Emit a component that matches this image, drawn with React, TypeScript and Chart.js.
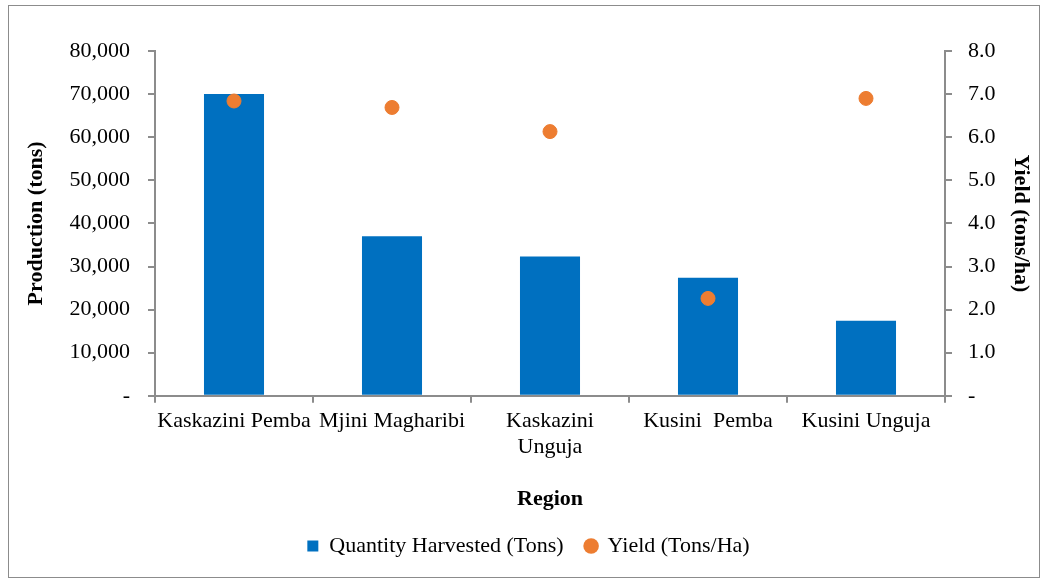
import React, { useEffect, useRef } from "react";
import { Chart, registerables } from "chart.js";

Chart.register(...registerables);

const regions: (string | string[])[] = [
  "Kaskazini Pemba",
  "Mjini Magharibi",
  ["Kaskazini", "Unguja"],
  "Kusini  Pemba",
  "Kusini Unguja",
];
const quantityHarvested = [70000, 37000, 32300, 27400, 17400];
const yieldTonsHa = [6.84, 6.69, 6.13, 2.26, 6.9];

const FONT = "'Liberation Serif', 'Times New Roman', serif";
const FS = 22;

const borderPlugin = {
  id: "outerBorder",
  beforeDraw(chart: any) {
    const ctx = chart.ctx;
    ctx.save();
    ctx.fillStyle = "#ffffff";
    ctx.fillRect(0, 0, chart.width, chart.height);
    ctx.strokeStyle = "#8c8c8c";
    ctx.lineWidth = 1;
    ctx.strokeRect(8.5, 5.5, 1031, 572);
    ctx.restore();
  },
};

export default function App() {
  const ref = useRef<HTMLCanvasElement | null>(null);
  useEffect(() => {
    if (!ref.current) return;
    const chart = new Chart(ref.current, {
      type: "bar",
      data: {
        labels: regions,
        datasets: [
          {
            type: "bar",
            label: "Quantity Harvested (Tons)",
            data: quantityHarvested,
            backgroundColor: "#0070C0",
            yAxisID: "y",
            order: 2,
            barPercentage: 0.38,
            categoryPercentage: 1,
          },
          {
            type: "line",
            label: "Yield (Tons/Ha)",
            data: yieldTonsHa,
            yAxisID: "y1",
            showLine: false,
            pointRadius: 7,
            pointHoverRadius: 7,
            pointBackgroundColor: "#ED7D31",
            pointBorderColor: "#ED7D31",
            backgroundColor: "#ED7D31",
            borderColor: "#ED7D31",
            pointStyle: "circle",
            order: 1,
          } as any,
        ],
      },
      options: {
        animation: false,
        responsive: false,
        maintainAspectRatio: false,
        layout: { padding: { left: 20, right: 10, top: 51, bottom: 13 } },
        plugins: {
          tooltip: { enabled: false },
          legend: {
            position: "bottom",
            labels: {
              usePointStyle: true,
              boxWidth: 11,
              boxHeight: 11,
              padding: 22,
              color: "#000",
              font: { family: FONT, size: FS },
              sort: (a: any, b: any) => a.datasetIndex - b.datasetIndex,
              generateLabels(chart: any) {
                const items = Chart.defaults.plugins.legend.labels.generateLabels(chart);
                items.forEach((it: any) => {
                  const ds = chart.data.datasets[it.datasetIndex];
                  it.pointStyle = ds.type === "bar" ? "rect" : "circle";
                  it.fillStyle = ds.type === "bar" ? "#0070C0" : "#ED7D31";
                  it.strokeStyle = it.fillStyle;
                  it.lineWidth = 0;
                });
                return items;
              },
            },
          },
        },
        scales: {
          x: {
            offset: true,
            border: { color: "#8c8c8c", width: 2 },
            grid: { offset: true, drawOnChartArea: false, drawTicks: true, tickLength: 7, color: "#8c8c8c", lineWidth: 2 },
            ticks: { color: "#000", font: { family: FONT, size: FS }, maxRotation: 0, autoSkip: false, padding: 5 },
            title: {
              display: true,
              text: "Region",
              color: "#000",
              font: { family: FONT, size: FS, weight: "bold" },
              padding: { top: 21, bottom: 0 },
            },
          },
          y: {
            position: "left",
            min: 0,
            max: 80000,
            border: { color: "#8c8c8c", width: 2 },
            grid: { drawOnChartArea: false, drawTicks: true, tickLength: 7, color: "#8c8c8c", lineWidth: 2 },
            ticks: {
              stepSize: 10000,
              color: "#000",
              font: { family: FONT, size: FS },
              padding: 18,
              callback: (v: any) => (Number(v) === 0 ? "-" : Number(v).toLocaleString("en-US")),
            },
            title: {
              display: true,
              text: "Production (tons)",
              color: "#000",
              font: { family: FONT, size: FS, weight: "bold" },
              padding: 3,
            },
            afterFit(scale: any) {
              scale.width = 135;
            },
          },
          y1: {
            position: "right",
            min: 0,
            max: 8,
            border: { color: "#8c8c8c", width: 2 },
            grid: { drawOnChartArea: false, drawTicks: true, tickLength: 7, color: "#8c8c8c", lineWidth: 2 },
            ticks: {
              stepSize: 1,
              color: "#000",
              font: { family: FONT, size: FS },
              padding: 16,
              callback: (v: any) => (Number(v) === 0 ? "-" : Number(v).toFixed(1)),
            },
            title: {
              display: true,
              text: "Yield (tons/ha)",
              color: "#000",
              font: { family: FONT, size: FS, weight: "bold" },
              padding: 3,
            },
            afterFit(scale: any) {
              scale.width = 92;
            },
          },
        },
      },
      plugins: [borderPlugin],
    } as any);
    return () => chart.destroy();
  }, []);
  return (
    <div style={{ position: "fixed", left: 0, top: 0, width: 1047, height: 580 }}>
      <canvas ref={ref} width={1047} height={580} style={{ width: 1047, height: 580 }} />
    </div>
  );
}
